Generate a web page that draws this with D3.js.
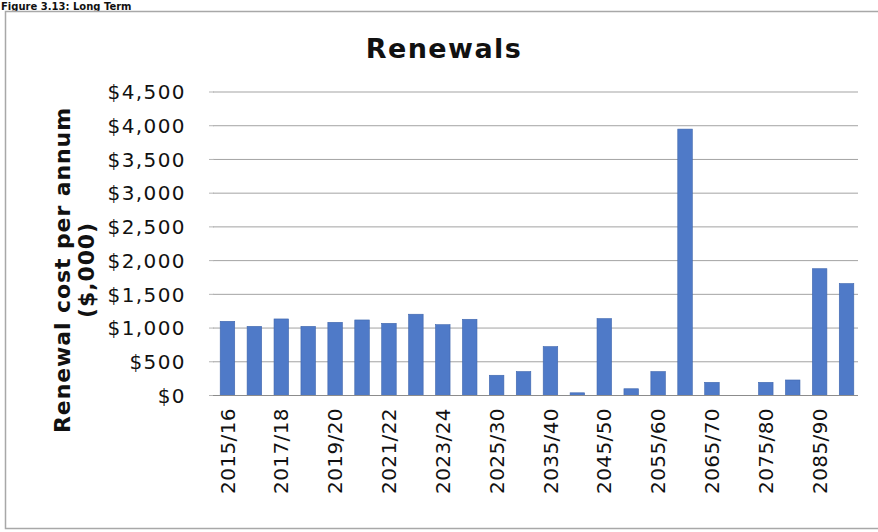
<!DOCTYPE html>
<html>
<head>
<meta charset="utf-8">
<script src="https://cdn.jsdelivr.net/npm/d3@7"></script>
<style>
  html, body { margin: 0; padding: 0; background: #fff; }
  svg { display: block; }
</style>
</head>
<body>
<svg id="chart" width="878" height="532"></svg>
<script>
// Renewal cost per annum, $,000 — yearly to 2024/25, then five-year periods
const periods = [
  "2015/16", "2016/17", "2017/18", "2018/19", "2019/20", "2020/21",
  "2021/22", "2022/23", "2023/24", "2024/25", "2025/30", "2030/35",
  "2035/40", "2040/45", "2045/50", "2050/55", "2055/60", "2060/65",
  "2065/70", "2070/75", "2075/80", "2080/85", "2085/90", "2090/95"
];
const renewalCost = [
  1100, 1025, 1135, 1025, 1085, 1120,
  1070, 1205, 1050, 1130, 300, 355,
  725, 40, 1140, 100, 355, 3950,
  195, 0, 195, 230, 1880, 1660
];
const yTicks = [0, 500, 1000, 1500, 2000, 2500, 3000, 3500, 4000, 4500];
const chartTitle = "Renewals";
const yTitleLines = ["Renewal cost per annum", "($,000)"];
const figureCaption = "Figure 3.13: Long Term";

const svg = d3.select("#chart");
const W = 878, H = 532;
const plot = { left: 214, right: 860, top: 92, bottom: 395.5 };

svg.append("rect").attr("width", W).attr("height", H).attr("fill", "#fff");

// page caption above the chart frame
svg.append("text")
  .attr("x", 1).attr("y", 9.5)
  .attr("font-family", "DejaVu Sans, Verdana, sans-serif")
  .attr("font-weight", "bold")
  .attr("font-size", 10)
  .attr("fill", "#111")
  .text(figureCaption);

// chart frame
svg.append("rect")
  .attr("x", 5.5).attr("y", 11.5)
  .attr("width", 920).attr("height", 517)
  .attr("fill", "none")
  .attr("stroke", "#a8a8a8")
  .attr("stroke-width", 1.5);

const x = d3.scaleBand()
  .domain(periods)
  .range([plot.left, plot.right])
  .paddingInner(0.46)
  .paddingOuter(0.23);

const y = d3.scaleLinear()
  .domain([0, 4500])
  .range([plot.bottom, plot.top]);

// gridlines
svg.append("g")
  .selectAll("line")
  .data(yTicks.filter(d => d > 0))
  .join("line")
  .attr("x1", plot.left - 1).attr("x2", plot.right - 2)
  .attr("y1", d => y(d)).attr("y2", d => y(d))
  .attr("stroke", "#a3a3a3")
  .attr("stroke-width", 1);

// y tick labels
svg.append("g")
  .selectAll("text")
  .data(yTicks)
  .join("text")
  .attr("x", 186)
  .attr("y", d => y(d))
  .attr("dy", "0.36em")
  .attr("text-anchor", "end")
  .attr("font-family", "DejaVu Sans, Verdana, sans-serif")
  .attr("font-size", 20)
  .attr("letter-spacing", 1.4)
  .attr("fill", "#111")
  .text(d => "$" + d3.format(",")(d));

// small tick marks on the value axis
svg.append("g")
  .selectAll("line")
  .data(yTicks)
  .join("line")
  .attr("x1", plot.left - 5).attr("x2", plot.left)
  .attr("y1", d => y(d)).attr("y2", d => y(d))
  .attr("stroke", "#b5b5b5");

// bars
svg.append("g")
  .selectAll("rect")
  .data(periods.map((p, i) => ({ p, v: renewalCost[i] })))
  .join("rect")
  .attr("x", d => x(d.p))
  .attr("width", x.bandwidth())
  .attr("y", d => y(d.v))
  .attr("height", d => y(0) - y(d.v))
  .attr("fill", "#4f7ac8")
  .attr("stroke", "#3f66ad")
  .attr("stroke-width", 0.6);

// category axis line
svg.append("line")
  .attr("x1", plot.left - 1).attr("x2", plot.right - 2)
  .attr("y1", y(0)).attr("y2", y(0))
  .attr("stroke", "#8c8c8c")
  .attr("stroke-width", 1.2);

// category labels, every second period
svg.append("g")
  .selectAll("text")
  .data(periods.filter((p, i) => i % 2 === 0))
  .join("text")
  .attr("transform", d => `translate(${x(d) + x.bandwidth() / 2},408) rotate(-90)`)
  .attr("dy", "0.36em")
  .attr("text-anchor", "end")
  .attr("font-family", "DejaVu Sans, Verdana, sans-serif")
  .attr("font-size", 20)
  .attr("letter-spacing", 0.4)
  .attr("fill", "#111")
  .text(d => d);

// chart title
svg.append("text")
  .attr("x", 444).attr("y", 58)
  .attr("text-anchor", "middle")
  .attr("font-family", "DejaVu Sans, Verdana, sans-serif")
  .attr("font-weight", "bold")
  .attr("font-size", 27)
  .attr("letter-spacing", 1.4)
  .attr("fill", "#111")
  .text(chartTitle);

// value axis title, two lines
const yTitle = svg.append("text")
  .attr("transform", "translate(0,270) rotate(-90)")
  .attr("text-anchor", "middle")
  .attr("font-family", "DejaVu Sans, Verdana, sans-serif")
  .attr("font-weight", "bold")
  .attr("font-size", 22)
  .attr("letter-spacing", 0.9)
  .attr("fill", "#111");
yTitle.selectAll("tspan")
  .data(yTitleLines)
  .join("tspan")
  .attr("x", 0)
  .attr("y", (d, i) => i === 0 ? 70 : 94)
  .text(d => d);
</script>
</body>
</html>
